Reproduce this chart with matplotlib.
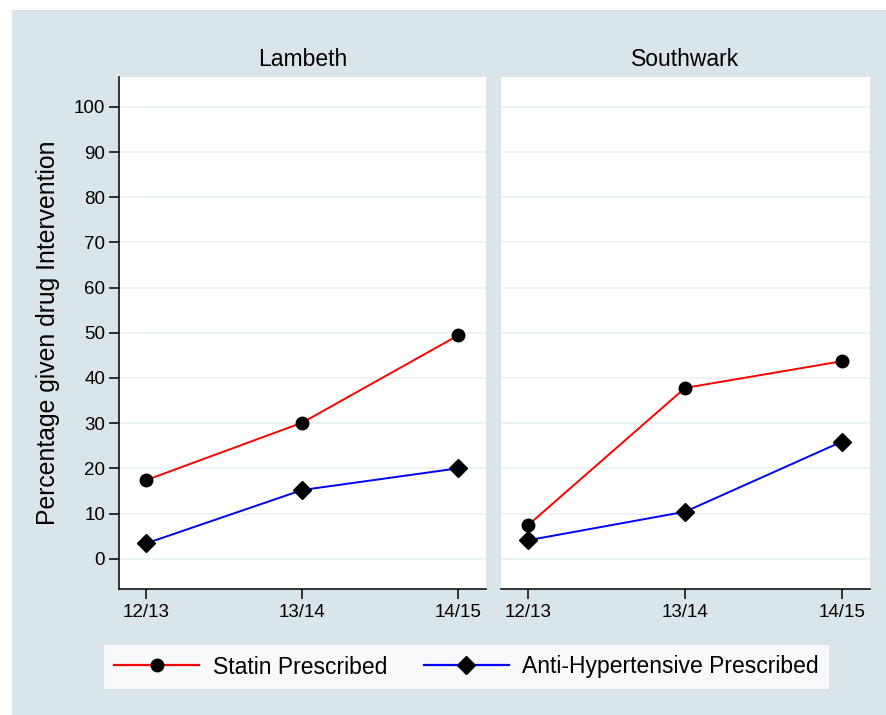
import matplotlib.pyplot as plt
from matplotlib.patches import Rectangle
from matplotlib.lines import Line2D

plt.rcParams['font.family'] = ['Liberation Sans', 'DejaVu Sans']

years = ['12/13', '13/14', '14/15']
regions = ['Lambeth', 'Southwark']
statin = {'Lambeth': [17.4, 30.1, 49.4], 'Southwark': [7.5, 37.8, 43.7]}
antihyp = {'Lambeth': [3.4, 15.2, 20.0], 'Southwark': [4.1, 10.4, 25.9]}
yticks = list(range(0, 101, 10))

W, H = 886, 715
bg = '#d9e5eb'
grid_col = '#e9f1f3'

fig = plt.figure(figsize=(W / 100, H / 100), dpi=100, facecolor='white')
fig.patches.append(Rectangle((12 / W, 0), 1 - 12 / W, 1 - 10 / H,
                             transform=fig.transFigure, facecolor=bg,
                             edgecolor='none', zorder=-10))


def px_box(x0, x1, y0, y1):
    return [x0 / W, 1 - y1 / H, (x1 - x0) / W, (y1 - y0) / H]


panels = [px_box(119, 486, 77, 589), px_box(501, 870, 77, 589)]
xs = [1, 2, 3]

for i, (name, box) in enumerate(zip(regions, panels)):
    ax = fig.add_axes(box)
    ax.set_facecolor('white')
    ax.plot(xs, statin[name], color='#ff0000', lw=1.4, marker='o', ms=9,
            mfc='black', mec='black', zorder=3)
    ax.plot(xs, antihyp[name], color='#0000ff', lw=1.4, marker='D', ms=9,
            mfc='black', mec='black', zorder=3)
    ax.set_xlim(0.825, 3.18)
    ax.set_ylim(-6.7, 106.6)
    ax.set_xticks(xs)
    ax.set_xticklabels(years, fontsize=13.5)
    ax.set_yticks(yticks)
    for y in yticks:
        ax.axhline(y, color=grid_col, lw=1.2, zorder=1)
    for s in ['top', 'right']:
        ax.spines[s].set_visible(False)
    ax.spines['bottom'].set_linewidth(1.1)
    ax.tick_params(axis='x', length=7, width=1.1, pad=4)
    if i == 0:
        ax.spines['left'].set_linewidth(1.1)
        ax.tick_params(axis='y', length=7, width=1.1, labelsize=13.5, pad=3)
        ax.set_ylabel('Percentage given drug Intervention', fontsize=17.8,
                      labelpad=10)
    else:
        ax.spines['left'].set_visible(False)
        ax.tick_params(axis='y', left=False, labelleft=False)
    cx = (box[0] + box[2] / 2)
    fig.text(cx, 1 - 60 / H, name, ha='center', va='center', fontsize=16.5)

handles = [
    Line2D([], [], color='#ff0000', lw=1.6, marker='o', ms=9, mfc='black',
           mec='black'),
    Line2D([], [], color='#0000ff', lw=1.6, marker='D', ms=9, mfc='black',
           mec='black'),
]
leg = fig.legend(handles, ['Statin Prescribed', 'Anti-Hypertensive Prescribed'],
                 loc='center', bbox_to_anchor=(466.5 / W, 1 - 667 / H),
                 ncol=2, fontsize=16.5, frameon=True, fancybox=False,
                 handlelength=3.7, handletextpad=0.6, columnspacing=1.6,
                 borderpad=0.45)
leg.get_frame().set_facecolor('white')
leg.get_frame().set_edgecolor('none')

fig.savefig('out.png', dpi=100, facecolor='white')
